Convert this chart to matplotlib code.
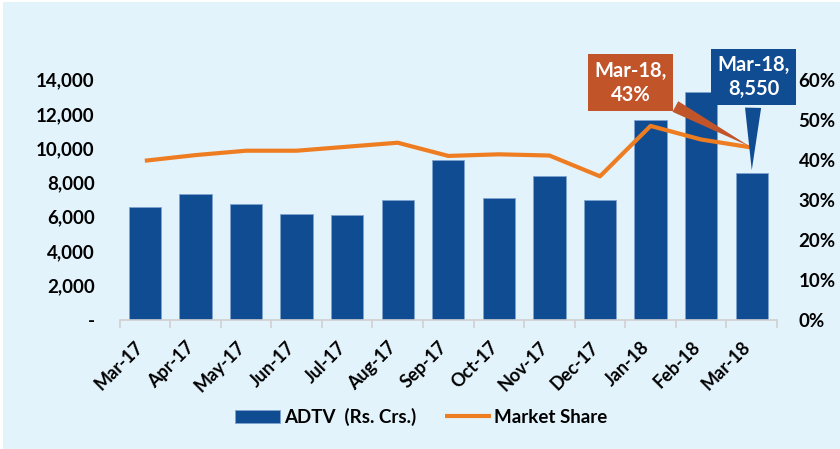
import matplotlib
matplotlib.use("Agg")
import matplotlib.pyplot as plt
from matplotlib.ticker import FuncFormatter, FixedLocator
from matplotlib.patches import Rectangle
from matplotlib.transforms import ScaledTranslation

months = ["Mar-17", "Apr-17", "May-17", "Jun-17", "Jul-17", "Aug-17", "Sep-17",
          "Oct-17", "Nov-17", "Dec-17", "Jan-18", "Feb-18", "Mar-18"]
adtv = [6550, 7300, 6750, 6150, 6100, 6950, 9300, 7100, 8400, 6950, 11650, 13250, 8550]
share = [0.397, 0.411, 0.422, 0.422, 0.432, 0.442, 0.409, 0.413, 0.410, 0.358, 0.484, 0.450, 0.43]

BLUE = "#104C91"
ORANGE = "#EE7D22"
CALLOUT_OR = "#C2542A"
BG = "#E3F3FC"

plt.rcParams['font.family'] = ['Lato', 'DejaVu Sans']

fig = plt.figure(figsize=(8.4, 4.49), dpi=100)
fig.patch.set_facecolor("white")
fig.patches.append(Rectangle((3/840, 0), 1, 1 - 2/449, transform=fig.transFigure,
                             facecolor=BG, edgecolor="none", zorder=-10))

ax = fig.add_axes([0.1423, 0.2884, 0.7827, 0.5345])
ax.set_facecolor("none")
x = list(range(len(months)))
bars = ax.bar(x, adtv, width=0.64, color=BLUE, edgecolor="#7FA3CF", linewidth=0.6,
              label="ADTV  (Rs. Crs.)", zorder=2)
ax.set_xlim(-0.5, len(months) - 0.5)
ax.set_ylim(0, 14000)
ax.yaxis.set_major_locator(FixedLocator(range(0, 14001, 2000)))
ax.yaxis.set_major_formatter(FuncFormatter(lambda v, p: "-" if v == 0 else f"{v:,.0f}"))
ax.tick_params(axis="y", length=0, pad=18, labelsize=13.5)
for t in ax.get_yticklabels():
    t.set_fontweight("bold")

ax.set_xticks(x)
ax.set_xticklabels(months, rotation=45, ha="right", va="center", rotation_mode="anchor",
                   fontsize=13, fontweight="bold")
ax.tick_params(axis="x", which="major", length=0, pad=18)
shift = ScaledTranslation(-4 / 100, 0, fig.dpi_scale_trans)
for t in ax.get_xticklabels():
    t.set_transform(t.get_transform() + shift)
ax.set_xticks([i - 0.5 for i in range(len(months) + 1)], minor=True)
ax.tick_params(axis="x", which="minor", length=6, color="#D0D0D0", width=1.2)
for s in ["top", "right", "left"]:
    ax.spines[s].set_visible(False)
ax.spines["bottom"].set_color("#D0D0D0")
ax.spines["bottom"].set_linewidth(1.2)

ax2 = ax.twinx()
line, = ax2.plot(x, share, color=ORANGE, linewidth=3, label="Market Share", zorder=3,
                 solid_capstyle="butt")
ax2.set_ylim(0, 0.6)
ax2.yaxis.set_major_locator(FixedLocator([i / 10 for i in range(7)]))
ax2.yaxis.set_major_formatter(FuncFormatter(lambda v, p: f"{v*100:.0f}%"))
ax2.tick_params(axis="y", length=0, pad=15.5, labelsize=13.5)
for t in ax2.get_yticklabels():
    t.set_fontweight("bold")
for s in ax2.spines.values():
    s.set_visible(False)

# callouts for the last month
last = len(months) - 1
ax2.annotate(f"{months[last]},\n{adtv[last]:,}", xy=(last, adtv[last] / 14000 * 0.6),
             xytext=(2, 96), textcoords="offset pixels", ha="center", va="center",
             color="white", fontsize=14.5, fontweight="bold", linespacing=1.25,
             bbox=dict(boxstyle="square,pad=0.3", fc=BLUE, ec="none"),
             arrowprops=dict(arrowstyle="wedge,tail_width=0.8,shrink_factor=0.5", fc=BLUE, ec="none"),
             zorder=5, annotation_clip=False)
ax2.annotate(f"{months[last]},\n{share[last]*100:.0f}%", xy=(last, share[last]),
             xytext=(-121, 65), textcoords="offset pixels", ha="center", va="center",
             color="white", fontsize=14.5, fontweight="bold", linespacing=1.25,
             bbox=dict(boxstyle="square,pad=0.3", fc=CALLOUT_OR, ec="none"),
             arrowprops=dict(arrowstyle="wedge,tail_width=0.6,shrink_factor=0.5", fc=CALLOUT_OR, ec="none"),
             zorder=6, annotation_clip=False)

fig.legend([bars, line], ["ADTV  (Rs. Crs.)", "Market Share"], loc="center",
           bbox_to_anchor=(421 / 840, 1 - 417 / 449), ncol=2, frameon=False,
           prop=dict(size=13.5, weight="bold"), handlelength=2.45, handletextpad=0.2,
           columnspacing=1.5)

fig.savefig("out.png", dpi=100, facecolor=fig.get_facecolor())
